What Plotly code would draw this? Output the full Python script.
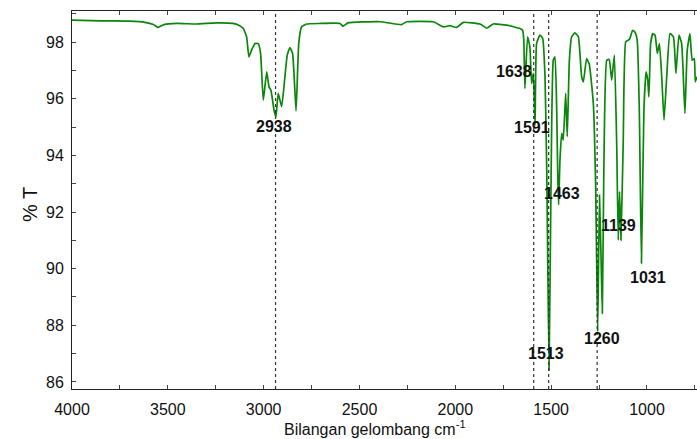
import plotly.graph_objects as go

wavenumber = [4000, 3900, 3800, 3700, 3620, 3575, 3550, 3520, 3450, 3350, 3250, 3160, 3130,
              3106, 3089, 3077, 3063, 3045, 3028, 3016, 3002, 2984, 2972, 2962, 2946, 2936,
              2924, 2906, 2889, 2877, 2863, 2849, 2831, 2817, 2802, 2776, 2706, 2602, 2586,
              2560, 2393, 2280, 2254, 2115, 2063, 2028, 1993, 1958, 1871, 1836, 1802, 1732,
              1663, 1649, 1643, 1637, 1623, 1611, 1602, 1593, 1584, 1576, 1558, 1544, 1532,
              1523, 1511, 1502, 1489, 1480, 1471, 1466, 1461, 1454, 1445, 1437, 1424, 1416,
              1405, 1393, 1376, 1358, 1341, 1332, 1315, 1301, 1280, 1268, 1262, 1257, 1248,
              1240, 1233, 1225, 1210, 1197, 1184, 1170, 1158, 1150, 1143, 1136, 1124, 1111,
              1097, 1089, 1075, 1063, 1051, 1040, 1029, 1016, 1005, 996, 990, 981, 970, 958,
              946, 935, 923, 911, 897, 880, 862, 849, 833, 819, 802, 790, 776, 764, 753, 748, 739]
transmittance = [98.78, 98.76, 98.75, 98.74, 98.70, 98.62, 98.52, 98.62, 98.66, 98.64, 98.68, 98.66, 98.60,
                 98.48, 98.19, 97.48, 97.72, 97.95, 97.95, 97.60, 95.95, 96.95, 96.42, 96.30, 95.60, 95.36,
                 96.19, 95.72, 96.78, 97.54, 97.81, 97.60, 95.57, 97.95, 98.54, 98.64, 98.66, 98.66, 98.56,
                 98.68, 98.72, 98.62, 98.72, 98.72, 98.54, 98.58, 98.52, 98.70, 98.64, 98.50, 98.64, 98.60,
                 98.48, 98.42, 98.10, 96.36, 98.19, 97.83, 96.54, 96.90, 95.07, 97.95, 98.25, 98.13, 96.78,
                 93.48, 86.42, 92.07, 97.36, 97.48, 95.60, 93.48, 92.25, 93.83, 94.78, 94.54, 96.19, 94.66,
                 97.36, 98.19, 98.33, 98.19, 96.78, 96.60, 97.42, 97.22, 95.84, 93.00, 90.00, 87.78, 92.60,
                 90.50, 88.42, 93.50, 97.36, 97.39, 96.66, 97.54, 94.42, 91.01, 92.72, 91.01, 94.42, 98.01,
                 98.07, 98.13, 98.42, 98.36, 98.07, 95.60, 90.19, 95.60, 96.95, 96.66, 96.07, 97.95, 98.30, 98.25,
                 97.60, 97.95, 96.78, 95.25, 96.78, 98.30, 98.19, 96.90, 98.25, 97.95, 95.48, 97.72, 98.30, 97.36, 97.42, 96.60, 96.78]

marked_peaks = [2938, 1591, 1513, 1260]
label_texts = ["2938", "1638", "1591", "1463", "1513", "1260", "1139", "1031"]
label_x = [2946, 1694, 1600, 1443, 1527, 1235, 1146, 995]
label_y = [95.03, 96.98, 95.00, 92.67, 87.02, 87.52, 91.54, 89.70]

fig = go.Figure()
fig.add_trace(go.Scatter(x=wavenumber, y=transmittance, mode="lines",
                         line=dict(color="#0a870a", width=1.7, shape="spline", smoothing=0.4),
                         showlegend=False))

for p in marked_peaks:
    fig.add_vline(x=p, line=dict(color="#333333", width=1.2, dash="dot"))

for t, x, y in zip(label_texts, label_x, label_y):
    fig.add_annotation(x=x, y=y, text="<b>" + t + "</b>", showarrow=False,
                       font=dict(family="Liberation Sans, Arial", size=16, color="#111111"),
                       xanchor="center", yanchor="middle")

fig.add_annotation(xref="paper", yref="paper", x=-0.0672, y=0.487, text="% T",
                   textangle=-90, showarrow=False, xanchor="center", yanchor="middle",
                   font=dict(family="Liberation Sans, Arial", size=20, color="#111111"))
fig.add_annotation(xref="paper", yref="paper", x=0.485, y=-0.103,
                   text="Bilangan gelombang cm<sup>-1</sup>", showarrow=False,
                   xanchor="center", yanchor="middle",
                   font=dict(family="Liberation Sans, Arial", size=16, color="#111111"))

fig.update_layout(
    width=697, height=439,
    margin=dict(l=72, r=0, t=11, b=50),
    paper_bgcolor="white", plot_bgcolor="white",
    font=dict(family="Liberation Sans, Arial", size=16, color="#111111"),
)
fig.update_xaxes(range=[4000, 739], tickmode="array", tickvals=[4000, 3500, 3000, 2500, 2000, 1500, 1000],
                 showgrid=False, zeroline=False, showline=True, linecolor="#222222", linewidth=1,
                 mirror="allticks", ticks="inside", ticklen=4, tickcolor="#444444",
                 minor=dict(dtick=250, ticks="inside", ticklen=4, tickcolor="#444444", showgrid=False),
                 ticklabelstandoff=6)
fig.update_yaxes(range=[85.75, 99.1], tickmode="array", tickvals=[86, 88, 90, 92, 94, 96, 98],
                 showgrid=False, zeroline=False, showline=True, linecolor="#222222", linewidth=1,
                 mirror=False, ticks="inside", ticklen=4, tickcolor="#444444",
                 minor=dict(dtick=1, ticks="inside", ticklen=4, tickcolor="#444444", showgrid=False),
                 ticklabelstandoff=4)

fig.write_html("out.html")
